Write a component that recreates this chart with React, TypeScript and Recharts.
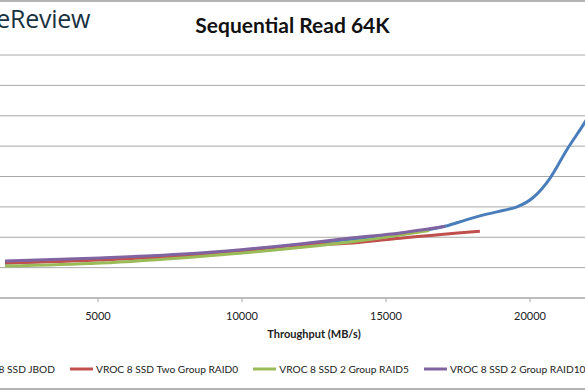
import React from 'react';
import { LineChart, Line, XAxis, YAxis, CartesianGrid, Legend } from 'recharts';

// throughput (MB/s) and latency, one pair of arrays per series
const jbodThroughput = [1770, 5070, 8540, 12010, 13750, 15490, 17050, 17810, 18500, 19100, 19550, 20100, 20700, 21280, 21910, 22500];
const jbodLatency = [1.15, 1.28, 1.43, 1.76, 1.93, 2.12, 2.36, 2.58, 2.76, 2.89, 3.0, 3.3, 3.95, 4.88, 5.79, 6.75];

const raid0Throughput = [1770, 5070, 8540, 12010, 13850, 15490, 18260];
const raid0Latency = [1.15, 1.25, 1.42, 1.74, 1.81, 1.97, 2.2];

const raid5Throughput = [1770, 5070, 8540, 12010, 13750, 15490, 16500];
const raid5Latency = [1.05, 1.15, 1.37, 1.66, 1.84, 2.07, 2.22];

const raid10Throughput = [1770, 5070, 8540, 12010, 13850, 15490, 17050];
const raid10Latency = [1.22, 1.32, 1.48, 1.78, 1.98, 2.14, 2.36];

const xTicks = [0, 5000, 10000, 15000, 20000, 25000];
const yTicks = [0, 1, 2, 3, 4, 5, 6, 7, 8];

const pts = (xs: number[], ys: number[]) => xs.map((x, i) => ({ x, y: ys[i] }));

const series = [
  { name: 'VROC 8 SSD JBOD', color: '#4a7ebb', data: pts(jbodThroughput, jbodLatency) },
  { name: 'VROC 8 SSD Two Group RAID0', color: '#c0504d', data: pts(raid0Throughput, raid0Latency) },
  { name: 'VROC 8 SSD 2 Group RAID5', color: '#9bbb59', data: pts(raid5Throughput, raid5Latency) },
  { name: 'VROC 8 SSD 2 Group RAID10', color: '#8064a2', data: pts(raid10Throughput, raid10Latency) },
];

const font = 'Lato, "Open Sans", sans-serif';

const LegendItem = ({ color, label }: { color: string; label: string }) => (
  <div style={{ display: 'flex', alignItems: 'center', whiteSpace: 'nowrap' }}>
    <svg width={23} height={4} style={{ marginRight: 3 }}>
      <line x1={0} y1={2} x2={23} y2={2} stroke={color} strokeWidth={3} />
    </svg>
    <span>{label}</span>
  </div>
);

const renderLegend = (props: any) => {
  const payload = props.payload || [];
  // keep the series order (recharts sorts legend items by name)
  const items = series
    .map((s) => payload.find((p: any) => p.value === s.name))
    .filter(Boolean);
  const first = items[0];
  const rest = items.slice(1);
  return (
    <div style={{ position: 'relative', width: 800, height: 18, fontFamily: font, fontSize: 10.2, color: '#222', lineHeight: '18px' }}>
      {first && (
        <div style={{ position: 'absolute', right: 645, top: 0 }}>
          <LegendItem color={first.color} label={first.value} />
        </div>
      )}
      <div style={{ position: 'absolute', left: 170, top: 0, display: 'flex', gap: 15 }}>
        {rest.map((p: any) => (
          <LegendItem key={p.value} color={p.color} label={p.value} />
        ))}
      </div>
    </div>
  );
};

export default function App() {
  return (
    <div
      style={{
        position: 'fixed',
        left: 0,
        top: 0,
        width: 585,
        height: 390,
        overflow: 'hidden',
        background: '#fff',
        boxSizing: 'border-box',
        borderTop: '2px solid #b4b4b4',
        borderBottom: '2px solid #b4b4b4',
      }}
    >
      <div style={{ position: 'absolute', right: 495, top: -1, fontFamily: '"Open Sans", sans-serif', fontSize: 25, color: '#17323f', whiteSpace: 'nowrap', letterSpacing: -0.3 }}>
        StorageReview
      </div>
      <div style={{ position: 'absolute', left: 0, width: 585, top: 10, textAlign: 'center', fontFamily: font, fontWeight: 700, fontSize: 21, color: '#111' }}>
        Sequential Read 64K
      </div>
      <div style={{ position: 'absolute', left: -100, top: -2 }}>
        <LineChart width={800} height={390} margin={{ top: 55, right: 26, bottom: 24, left: 0 }}>
          <CartesianGrid vertical={false} stroke="#a8a8a8" />
          <XAxis
            type="number"
            dataKey="x"
            domain={[0, 25000]}
            ticks={xTicks}
            height={50}
            tickSize={4}
            tickMargin={10}
            stroke="#a8a8a8"
            tick={{ fill: '#222', fontSize: 11, fontFamily: font }}
            label={{ value: 'Throughput (MB/s)', position: 'insideBottom', offset: 10, fill: '#222', fontSize: 11, fontWeight: 700, fontFamily: font }}
          />
          <YAxis
            type="number"
            domain={[0, 8]}
            ticks={yTicks}
            width={54}
            axisLine={false}
            tickLine={false}
            tick={{ fill: '#222', fontSize: 11, fontFamily: font }}
          />
          <Legend verticalAlign="bottom" content={renderLegend} wrapperStyle={{ left: 0, top: 360, width: 800, height: 18 }} />
          {series.map((s) => (
            <Line
              key={s.name}
              data={s.data}
              dataKey="y"
              name={s.name}
              type="monotone"
              stroke={s.color}
              strokeWidth={3}
              dot={false}
              legendType="plainline"
              isAnimationActive={false}
            />
          ))}
        </LineChart>
      </div>
    </div>
  );
}
